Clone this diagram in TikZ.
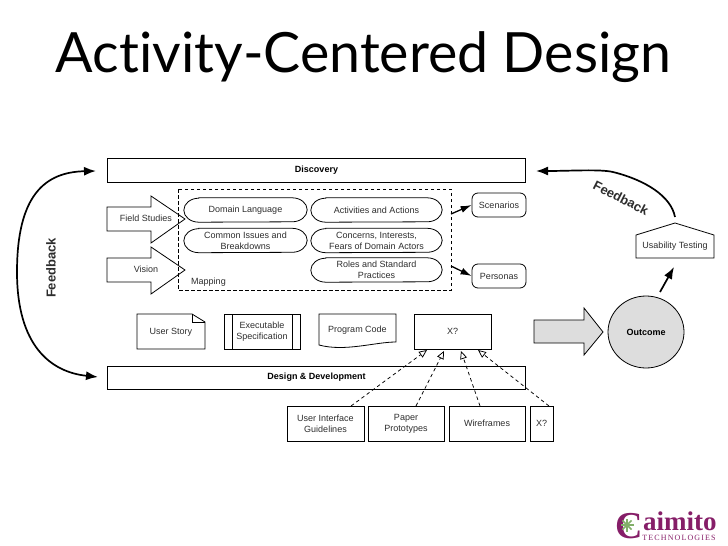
\documentclass[tikz,border=0pt]{standalone}
\usepackage{fontspec}
\setmainfont{Liberation Sans}
\newfontfamily\titlefont{Lato}[Ligatures=CommonOff]
\newfontfamily\logofont{Liberation Serif}
\newfontfamily\logospaced{Liberation Serif}[LetterSpace=14]
\usetikzlibrary{arrows.meta,calc,shapes.geometric}
\definecolor{fillgray}{RGB}{221,221,221}
\definecolor{txtgray}{RGB}{45,45,45}
\definecolor{logopurple}{RGB}{134,30,104}
\definecolor{logogreen}{RGB}{130,175,105}
\tikzset{
  box/.style={draw,line width=0.8pt,inner sep=0pt,align=center,font=\fontsize{9}{11}\selectfont,text=txtgray},
  bar/.style={box,minimum width=418pt,minimum height=24pt,text=black,font=\fontsize{9}{11}\selectfont\bfseries},
  plain/.style={inner sep=0pt,align=center,font=\fontsize{9}{11}\selectfont,text=txtgray},
  pill/.style={plain,minimum width=131pt,minimum height=24pt,
    append after command={\pgfextra{\draw[line width=0.8pt]
      ($(\tikzlastnode.north west)+(15,0)$) -- ($(\tikzlastnode.north east)+(-15,0)$)
      arc[start angle=90,end angle=-90,x radius=15pt,y radius=12pt]
      -- ($(\tikzlastnode.south west)+(15,0)$)
      arc[start angle=270,end angle=90,x radius=15pt,y radius=12pt] -- cycle;}}},
  soft/.style={box,rounded corners=6pt,minimum width=54pt,minimum height=24pt},
  outl/.style={draw,line width=0.8pt},
  thick arrow/.style={line width=1.7pt,-{Latex[length=12pt,width=9pt]}},
  flow/.style={line width=1.3pt,-{Latex[length=11pt,width=7pt]}},
  dep/.style={line width=0.75pt,dash pattern=on 3.5pt off 3pt,-{Triangle[open,length=8pt,width=7pt,fill=white]}},
  feedlabel/.style={inner sep=0pt,font=\fontsize{13}{15}\selectfont\bfseries,text=txtgray}
}
\begin{document}
\begin{tikzpicture}[x=1pt,y=-1pt]
\useasboundingbox (0,0) rectangle (728,546);
\node[inner sep=0pt,anchor=base,font=\titlefont\fontsize{55.5}{60}\selectfont] (title) at (363.5,72) {Activity-Centered Design};

% bars
\node[bar] (disc) at (316.5,170) {Discovery};
\node[bar,minimum height=23pt] (dev) at (316.5,377.5) {Design \& Development};

% mapping frame and input arrows
\draw[outl] (107,207) -- (151,207) -- (151,196) -- (185,219) -- (151,243) -- (151,231) -- (107,231) -- cycle;
\draw[outl] (107,258) -- (151,258) -- (151,247) -- (185,270) -- (151,294) -- (151,282) -- (107,282) -- cycle;
\draw[line width=0.8pt,dash pattern=on 3.5pt off 2.5pt] (178,189) rectangle (451,290);
\node[plain] (field) at (146,218.5) {Field Studies};
\node[plain] (vision) at (146,269.5) {Vision};
\node[plain] (mapping) at (208.5,282) {Mapping};

\node[pill,minimum width=123pt] (lang) at (245.5,210) {Domain Language};
\node[pill,minimum width=123pt] (issues) at (245.5,240.5) {Common Issues and\\Breakdowns};
\node[pill] (acts) at (376.5,210) {Activities and Actions};
\node[pill] (fears) at (376.5,240.5) {Concerns, Interests,\\Fears of Domain Actors};
\node[pill] (roles) at (376.5,270) {Roles and Standard\\Practices};

\node[soft] (scen) at (499,205) {Scenarios};
\node[soft] (pers) at (499,276) {Personas};
\coordinate (mapa) at (451,214);
\coordinate (mapb) at (451,266);
\draw[flow] (mapa) -- (scen.west);
\draw[flow] (mapb) -- (pers.west);

% artefacts
\draw[outl] (137,314) -- (192,314) -- (205,322) -- (205,349) -- (137,349) -- cycle;
\draw[line width=0.8pt] (192,314) -- (192,322) -- (205,322);
\node[plain] (story) at (171,332) {User Story};
\node[box,minimum width=76pt,minimum height=35pt] (spec) at (262,331.5) {Executable\\Specification};
\draw[line width=0.8pt] (232,314) -- (232,349) (292,314) -- (292,349);
\draw[outl] (319,314) -- (396,314) -- (396,342) .. controls (375,342) and (345,352) .. (319,345) -- cycle;
\node[plain] (code) at (357.5,330) {Program Code};
\node[box,minimum width=77pt,minimum height=35pt] (xa) at (452.5,331.5) {X?};

% bottom row
\node[box,minimum width=77pt,minimum height=35pt] (ui) at (325.5,423.5) {User Interface\\Guidelines};
\node[box,minimum width=76pt,minimum height=35pt] (paper) at (406,423.5) {Paper\\Prototypes};
\node[box,minimum width=76pt,minimum height=35pt] (wire) at (487,423.5) {Wireframes};
\node[box,minimum width=23pt,minimum height=35pt] (xb) at (541.5,423.5) {X?};
\coordinate (ua) at (351,406);
\coordinate (ub) at (427,350);
\coordinate (pa) at (416,406);
\coordinate (pb) at (444,351);
\coordinate (wa) at (480,406);
\coordinate (wb) at (461,351);
\coordinate (xc) at (549,406);
\coordinate (xd) at (478,350);
\draw[dep] (ua) -- (ub);
\draw[dep] (pa) -- (pb);
\draw[dep] (wa) -- (wb);
\draw[dep] (xc) -- (xd);

% outcome
\draw[outl,fill=fillgray] (534,320) -- (584,320) -- (584,308) -- (603,332) -- (584,355) -- (584,343) -- (534,343) -- cycle;
\node[draw,line width=0.8pt,ellipse,fill=fillgray,minimum width=76pt,minimum height=72pt,inner sep=0pt,text=black,font=\fontsize{9}{11}\selectfont\bfseries] (out) at (646,332) {Outcome};

% usability testing
\draw[outl] (636,235) -- (675,223) -- (714,235) -- (714,258) -- (636,258) -- cycle;
\node[plain] (usab) at (675,246.5) {Usability Testing};
\coordinate (oa) at (660,292);
\coordinate (ob) at (674,267);
\draw[thick arrow] (oa) -- (ob);

% feedback loops
\coordinate (fa) at (675,217);
\coordinate (fb) at (536,171);
\draw[thick arrow] (fa) .. controls (671,196) and (645,180) .. (613,172) .. controls (600,169) and (570,171) .. (fb);
\coordinate (la) at (96,171);
\coordinate (lb) at (98,377);
\draw[thick arrow,{Latex[length=12pt,width=9pt]}-{Latex[length=12pt,width=9pt]}] (la) .. controls (45,172) and (17,195) .. (17,272) .. controls (17,345) and (50,372) .. (lb);
\node[feedlabel,rotate=90] (fbl) at (51,268) {Feedback};
\node[feedlabel,rotate=-27] (fbr) at (621,198) {Feedback};

% logo
\node[inner sep=0pt,anchor=base,text=logopurple,font=\logofont\bfseries\fontsize{38}{38}\selectfont] (logoc) at (629,538) {C};
\foreach \a in {0,45,...,315}
  \draw[logogreen,line width=1.6pt] (627,525) -- ++(\a:6.5);
\node[inner sep=0pt,anchor=base west,text=logopurple,font=\logofont\bfseries\fontsize{27}{27}\selectfont] (logo) at (643,530) {aimito};
\node[inner sep=0pt,text=logopurple,font=\logospaced\fontsize{8}{8}\selectfont] (tech) at (679,537.5) {TECHNOLOGIES};
\end{tikzpicture}
\end{document}
